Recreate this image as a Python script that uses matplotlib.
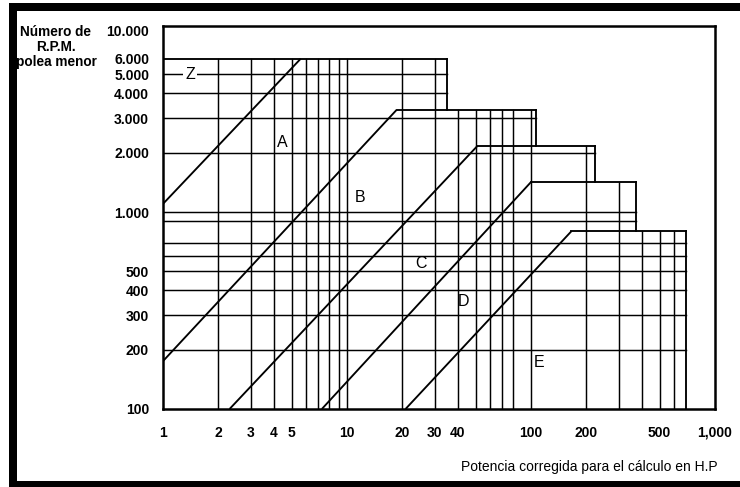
import matplotlib.pyplot as plt
from matplotlib.patches import Rectangle

# belt section zones: upper rpm limit and the hp range of that top edge
zone_top_rpm = [6000, 3300, 2160, 1420, 800]
zone_start_hp = [1, 18.6, 51, 100, 166]
zone_end_hp = [35, 106, 222, 370, 700]

# diagonal borders between sections, end points (hp, rpm)
diag_hp = [[1, 5.6], [1, 18.6], [2.3, 51], [7.3, 100], [20.8, 166]]
diag_rpm = [[1100, 6000], [175, 3300], [100, 2160], [100, 1420], [100, 800]]

rpm_grid = [200, 300, 400, 500, 600, 700, 900, 1000, 2000, 3000, 4000, 5000]
hp_grid = [2, 3, 4, 5, 6, 7, 8, 9, 10, 20, 30, 40, 50, 60, 70, 80, 100,
           200, 300, 400, 500, 600]

sections = ['Z', 'A', 'B', 'C', 'D', 'E']
section_hp = [1.4, 4.45, 11.8, 25.4, 42.8, 110]
section_rpm = [5000, 2260, 1180, 550, 350, 173]

yticks = [100, 200, 300, 400, 500, 1000, 2000, 3000, 4000, 5000, 6000]
ytick_labels = ['100', '200', '300', '400', '500', '1.000', '2.000',
                '3.000', '4.000', '5.000', '6.000']
xticks = [1, 2, 3, 4, 5, 10, 20, 30, 40, 100, 200, 500, 1000]
xtick_labels = ['1', '2', '3', '4', '5', '10', '20', '30', '40', '100',
                '200', '500', '1,000']

plt.rcParams['font.family'] = ['Liberation Sans', 'DejaVu Sans']

fig = plt.figure(figsize=(7.4, 4.87), dpi=100)
ax = fig.add_axes([163 / 740, 78 / 487, 552 / 740, 383 / 487])
ax.set_xscale('log')
ax.set_yscale('log')
ax.set_xlim(1, 1000)
ax.set_ylim(100, 8800)

lw_grid = 1.05
lw_edge = 1.35

# horizontal grid lines run to the right edge of the last zone that reaches them
for v in rpm_grid:
    i = max(k for k, t in enumerate(zone_top_rpm) if t >= v)
    ax.plot([1, zone_end_hp[i]], [v, v], color='black', lw=lw_grid)

# vertical grid lines run up to the top of the zone they belong to
for h in hp_grid:
    i = min(k for k, e in enumerate(zone_end_hp) if e >= h)
    ax.plot([h, h], [100, zone_top_rpm[i]], color='black', lw=lw_grid)

# stepped outline of the zones
for i in range(len(zone_top_rpm)):
    ax.plot([zone_start_hp[i], zone_end_hp[i]],
            [zone_top_rpm[i], zone_top_rpm[i]], color='black', lw=lw_edge)
    low = zone_top_rpm[i + 1] if i + 1 < len(zone_top_rpm) else 100
    ax.plot([zone_end_hp[i], zone_end_hp[i]], [zone_top_rpm[i], low],
            color='black', lw=lw_edge)

for hs, rs in zip(diag_hp, diag_rpm):
    ax.plot(hs, rs, color='black', lw=lw_edge, solid_capstyle='butt')

for s, h, r in zip(sections, section_hp, section_rpm):
    ax.text(h, r, s, ha='center', va='center', fontsize=11.5,
            bbox=dict(facecolor='white', edgecolor='none', pad=1.5) if s == 'Z' else None)

for sp in ax.spines.values():
    sp.set_linewidth(1.8)

ax.minorticks_off()
ax.set_xticks(xticks)
ax.set_xticklabels(xtick_labels)
ax.set_yticks(yticks)
ax.set_yticklabels(ytick_labels)
ax.tick_params(length=0, labelsize=10)
ax.tick_params(axis='x', pad=12)
ax.tick_params(axis='y', pad=10)
for lab in ax.get_xticklabels() + ax.get_yticklabels():
    lab.set_fontweight('bold')

ax.annotate('10.000', xy=(0, 1), xycoords='axes fraction', xytext=(-10, -4.5),
            textcoords='offset points', ha='right', va='center',
            fontsize=10, fontweight='bold')

fig.text(56 / 740, 1 - 47 / 487, 'Número de\nR.P.M.\npolea menor',
         ha='center', va='center', multialignment='center',
         fontsize=9.8, fontweight='bold', linespacing=1.05)
fig.text(718 / 740, 1 - 467 / 487, 'Potencia corregida para el cálculo en H.P',
         ha='right', va='center', fontsize=10)

# black frame around the sheet
for x0, y0, w, h in [(9, 0, 8, 484), (9, 476, 731, 8), (9, 0, 731, 6)]:
    fig.add_artist(Rectangle((x0 / 740, y0 / 487), w / 740, h / 487,
                             transform=fig.transFigure, color='black', lw=0))

fig.savefig('out.png', dpi=100)
